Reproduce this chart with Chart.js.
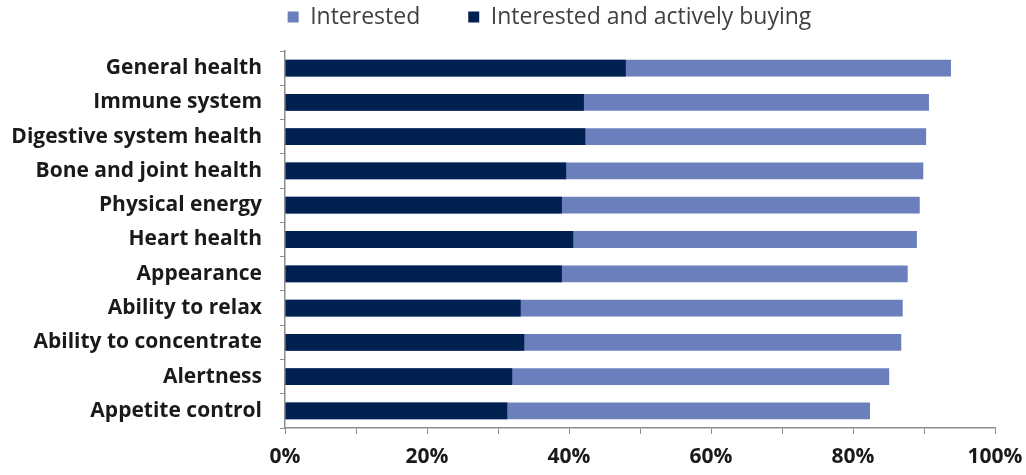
<!DOCTYPE html>
<html>
<head>
<meta charset="utf-8">
<script src="https://cdn.jsdelivr.net/npm/chart.js@4/dist/chart.umd.min.js"></script>
<style>
  html, body { margin: 0; padding: 0; background: #fff; }
  #wrap { width: 1026px; height: 475px; position: relative; }
</style>
</head>
<body>
<div id="wrap"><canvas id="chart"></canvas></div>
<script>
'use strict';

// Categories, top to bottom
var CATEGORIES = [
  'General health', 'Immune system', 'Digestive system health',
  'Bone and joint health', 'Physical energy', 'Heart health',
  'Appearance', 'Ability to relax', 'Ability to concentrate',
  'Alertness', 'Appetite control'
];

// Share of respondents (%)
var INTERESTED = [93.8, 90.7, 90.3, 89.9, 89.4, 89.0, 87.7, 87.0, 86.8, 85.1, 82.4];
var BUYING     = [48.0, 42.1, 42.3, 39.6, 39.0, 40.6, 39.0, 33.2, 33.7, 32.0, 31.3];

var X_TICKS_LABELED = [0, 20, 40, 60, 80, 100];

var COLORS = {
  interested: '#6b7fbd',
  buying:     '#00204f',
  axis:       '#8c8c8c',
  label:      '#1a1a1a',
  legend:     '#404040'
};

var FONT = 'Open Sans';

// Legend: wide gap between items, but keep it in the top strip
var legendTweak = {
  id: 'legendTweak',
  beforeInit: function (chart) {
    var fit = chart.legend.fit;
    chart.legend.fit = function () {
      fit.call(this);
      this.height = 51;
    };
  },
  afterLayout: function (chart) {
    var lg = chart.legend;
    var pad = lg.options.labels.padding;
    lg.top = 5.5 - pad;
    lg.bottom = 51;
    lg.left += 52;
    lg.right += 52;
  }
};

new Chart(document.getElementById('chart'), {
  type: 'bar',
  data: {
    labels: CATEGORIES,
    // buying first so it is drawn on top of the interested bar
    datasets: [
      { label: 'Interested and actively buying', data: BUYING, backgroundColor: COLORS.buying,
        barPercentage: 0.49, categoryPercentage: 1, grouped: false },
      { label: 'Interested', data: INTERESTED, backgroundColor: COLORS.interested,
        barPercentage: 0.49, categoryPercentage: 1, grouped: false }
    ]
  },
  options: {
    indexAxis: 'y',
    responsive: true,
    maintainAspectRatio: false,
    animation: false,
    layout: { padding: { left: 0, right: 31, top: 0, bottom: 0 } },
    plugins: {
      tooltip: { enabled: false },
      legend: {
        position: 'top',
        reverse: true,
        labels: {
          boxWidth: 11, boxHeight: 11, padding: 48,
          color: COLORS.legend,
          font: { family: FONT, size: 23 }
        }
      }
    },
    scales: {
      x: {
        min: 0, max: 100,
        afterFit: function (s) { s.height = 47; s.paddingLeft = 0; s.paddingRight = 0; },
        ticks: {
          stepSize: 10, autoSkip: false, maxRotation: 0, padding: 10,
          color: COLORS.label,
          font: { family: FONT, size: 21, weight: 'bold' },
          callback: function (v) { return X_TICKS_LABELED.indexOf(v) >= 0 ? v + '%' : ''; }
        },
        grid: { drawOnChartArea: false, drawTicks: true, tickLength: 6, color: COLORS.axis },
        border: { display: true, color: COLORS.axis, width: 1.5 }
      },
      y: {
        afterFit: function (s) { s.width = 285; },
        ticks: {
          padding: 18, color: COLORS.label,
          font: { family: FONT, size: 21, weight: 'bold' }
        },
        grid: { offset: true, drawOnChartArea: false, drawTicks: true, tickLength: 5, color: COLORS.axis },
        border: { display: true, color: COLORS.axis, width: 1.5 }
      }
    }
  },
  plugins: [legendTweak]
});
</script>
</body>
</html>
